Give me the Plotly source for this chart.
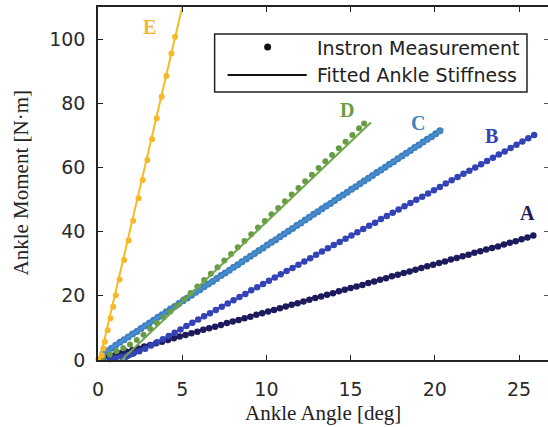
import plotly.graph_objects as go

# ---- Instron measurements (ankle angle in deg, ankle moment in N·m) ----
angle_a = [0.30, 0.65, 1.00, 1.35, 1.70, 2.05, 2.40, 2.75, 3.10, 3.45, 3.80, 4.15, 4.50, 4.85,
           5.20, 5.55, 5.90, 6.25, 6.60, 6.95, 7.30, 7.65, 8.00, 8.35, 8.70, 9.05, 9.40, 9.75,
           10.10, 10.45, 10.80, 11.15, 11.50, 11.85, 12.20, 12.55, 12.90, 13.25, 13.60, 13.95,
           14.30, 14.65, 15.00, 15.35, 15.70, 16.05, 16.40, 16.75, 17.10, 17.45, 17.80, 18.15,
           18.50, 18.85, 19.20, 19.55, 19.90, 20.25, 20.60, 20.95, 21.30, 21.65, 22.00, 22.35,
           22.70, 23.05, 23.40, 23.75, 24.10, 24.45, 24.80, 25.15, 25.50, 25.85]
moment_a = [0.5, 1.0, 1.5, 2.1, 2.6, 3.1, 3.6, 4.2, 4.7, 5.2, 5.7, 6.2, 6.8, 7.3,
            7.8, 8.3, 8.8, 9.4, 9.9, 10.4, 10.9, 11.5, 12.0, 12.5, 13.0, 13.5, 14.1, 14.6,
            15.1, 15.6, 16.1, 16.7, 17.2, 17.7, 18.2, 18.8, 19.3, 19.8, 20.3, 20.8,
            21.4, 21.9, 22.4, 22.9, 23.4, 24.0, 24.5, 25.0, 25.5, 26.1, 26.6, 27.1,
            27.6, 28.1, 28.7, 29.2, 29.7, 30.2, 30.7, 31.3, 31.8, 32.3, 32.8, 33.4,
            33.9, 34.4, 34.9, 35.4, 36.0, 36.5, 37.0, 37.6, 38.2, 38.8]

angle_b = [0.70, 1.05, 1.40, 1.75, 2.10, 2.45, 2.80, 3.15, 3.50, 3.85, 4.20, 4.55, 4.90, 5.25,
           5.60, 5.95, 6.30, 6.65, 7.00, 7.35, 7.70, 8.05, 8.40, 8.75, 9.10, 9.45, 9.80, 10.15,
           10.50, 10.85, 11.20, 11.55, 11.90, 12.25, 12.60, 12.95, 13.30, 13.65, 14.00, 14.35,
           14.70, 15.05, 15.40, 15.75, 16.10, 16.45, 16.80, 17.15, 17.50, 17.85, 18.20, 18.55,
           18.90, 19.25, 19.60, 19.95, 20.30, 20.65, 21.00, 21.35, 21.70, 22.05, 22.40, 22.75,
           23.10, 23.45, 23.80, 24.15, 24.50, 24.85, 25.20, 25.55, 25.90]
moment_b = [0.3, 0.6, 1.0, 1.5, 2.0, 2.7, 3.5, 4.5, 5.5, 6.5, 7.5, 8.5, 9.5, 10.6,
            11.6, 12.6, 13.6, 14.6, 15.6, 16.6, 17.6, 18.6, 19.6, 20.6, 21.7, 22.7, 23.7, 24.7,
            25.7, 26.7, 27.7, 28.7, 29.7, 30.7, 31.7, 32.8, 33.8, 34.8, 35.8, 36.8,
            37.8, 38.8, 39.8, 40.8, 41.8, 42.8, 43.9, 44.9, 45.9, 46.9, 47.9, 48.9,
            49.9, 50.9, 51.9, 52.9, 53.9, 55.0, 56.0, 57.0, 58.0, 59.0, 60.0, 61.0,
            62.0, 63.0, 64.0, 65.0, 66.1, 67.1, 68.1, 69.1, 70.1]

angle_c = [0.30, 0.55, 0.80, 1.05, 1.30, 1.55, 1.80, 2.05, 2.30, 2.55, 2.80, 3.05, 3.30, 3.55,
           3.80, 4.05, 4.30, 4.55, 4.80, 5.05, 5.30, 5.55, 5.80, 6.05, 6.30, 6.55, 6.80, 7.05,
           7.30, 7.55, 7.80, 8.05, 8.30, 8.55, 8.80, 9.05, 9.30, 9.55, 9.80, 10.05, 10.30, 10.55,
           10.80, 11.05, 11.30, 11.55, 11.80, 12.05, 12.30, 12.55, 12.80, 13.05, 13.30, 13.55,
           13.80, 14.05, 14.30, 14.55, 14.80, 15.05, 15.30, 15.55, 15.80, 16.05, 16.30, 16.55,
           16.80, 17.05, 17.30, 17.55, 17.80, 18.05, 18.30, 18.55, 18.80, 19.05, 19.30, 19.55,
           19.80, 20.05, 20.30]
moment_c = [2.0, 2.9, 3.7, 4.6, 5.5, 6.3, 7.2, 8.1, 8.9, 9.8, 10.7, 11.5, 12.4, 13.3,
            14.1, 15.0, 15.9, 16.7, 17.6, 18.5, 19.3, 20.2, 21.1, 21.9, 22.8, 23.7, 24.5, 25.4,
            26.3, 27.1, 28.0, 28.9, 29.7, 30.6, 31.5, 32.3, 33.2, 34.1, 34.9, 35.8, 36.7, 37.5,
            38.4, 39.3, 40.1, 41.0, 41.9, 42.7, 43.6, 44.5, 45.4, 46.2, 47.1, 48.0,
            48.8, 49.7, 50.6, 51.4, 52.3, 53.2, 54.0, 54.9, 55.8, 56.6, 57.5, 58.4,
            59.2, 60.1, 61.0, 61.8, 62.7, 63.6, 64.4, 65.3, 66.2, 67.0, 67.9, 68.8,
            69.6, 70.5, 71.4]

angle_d = [0.3, 0.7, 1.1, 1.5, 1.9, 2.3, 2.7, 3.1, 3.5, 3.9, 4.3, 4.7, 5.1, 5.5, 5.9, 6.3,
           6.7, 7.1, 7.5, 7.9, 8.3, 8.7, 9.1, 9.5, 9.9, 10.3, 10.7, 11.1, 11.5, 11.9, 12.3,
           12.7, 13.1, 13.5, 13.9, 14.3, 14.7, 15.1, 15.5, 15.8]
moment_d = [0.8, 1.7, 2.7, 3.7, 4.8, 6.2, 7.9, 9.7, 11.5, 13.3, 15.1, 17.0, 18.9, 20.9, 22.9,
            24.9, 26.9, 28.9, 31.0, 33.0, 35.1, 37.1, 39.2, 41.3, 43.3, 45.4, 47.4, 49.5, 51.6,
            53.6, 55.7, 57.7, 59.8, 61.9, 63.9, 66.0, 68.0, 70.1, 72.2, 73.7]

angle_e = [0.02, 0.23, 0.32, 0.41, 0.57, 0.74, 0.90, 1.06, 1.28, 1.55, 1.82, 2.09, 2.41,
           2.66, 2.93, 3.21, 3.49, 3.78, 4.06, 4.36, 4.58]
moment_e = [0.2, 1.5, 3.6, 5.7, 9.3, 13.0, 16.6, 20.2, 25.1, 31.2, 37.2, 43.4, 50.4,
            56.1, 62.3, 68.8, 75.3, 82.0, 88.5, 95.5, 100.7]

# ---- fitted ankle stiffness lines (end points) ----
fit_a_angle, fit_a_moment = [0.30, 25.90], [0.6, 38.8]
fit_b_angle, fit_b_moment = [1.59, 25.90], [0.0, 70.1]
fit_c_angle, fit_c_moment = [0.10, 20.50], [1.3, 72.0]
fit_d_angle, fit_d_moment = [1.40, 16.20], [0.0, 74.0]
fit_e_angle, fit_e_moment = [0.10, 5.00], [0.0, 110.0]

series_names = ["A", "B", "C", "D", "E"]

x_ticks = [0, 5, 10, 15, 20, 25]
y_ticks = [0, 20, 40, 60, 80, 100]

# ---- styling ----
colors = {"A": "#1d1b5c", "B": "#3443b6", "C": "#3d7fc1", "D": "#679c45", "E": "#f6b72c"}
line_colors = {"A": "#1d1b5c", "B": "#3443b6", "C": "#4a8fcf", "D": "#6fa54c", "E": "#f7bb22"}
marker_sizes = {"A": 6.5, "B": 6.5, "C": 7, "D": 6, "E": 6}
label_pos = {"A": (25.5, 45.8), "B": (23.37, 69.8), "C": (19.0, 73.7),
             "D": (14.77, 77.9), "E": (3.06, 103.7)}

meas = {"A": (angle_a, moment_a), "B": (angle_b, moment_b), "C": (angle_c, moment_c),
        "D": (angle_d, moment_d), "E": (angle_e, moment_e)}
fits = {"A": (fit_a_angle, fit_a_moment), "B": (fit_b_angle, fit_b_moment),
        "C": (fit_c_angle, fit_c_moment), "D": (fit_d_angle, fit_d_moment),
        "E": (fit_e_angle, fit_e_moment)}

fig = go.Figure()
for name in series_names:
    ax, my = meas[name]
    fx, fy = fits[name]
    fig.add_trace(go.Scatter(
        x=ax, y=my, mode="markers", showlegend=False, cliponaxis=False,
        marker=dict(size=marker_sizes[name], color=colors[name], line=dict(width=0)),
        hoverinfo="skip"))
    fig.add_trace(go.Scatter(
        x=fx, y=fy, mode="lines", showlegend=False,
        line=dict(color=line_colors[name], width=2), hoverinfo="skip"))

# curve labels
for name in series_names:
    lx, ly = label_pos[name]
    fig.add_annotation(x=lx, y=ly, text="<b>%s</b>" % name, showarrow=False,
                       font=dict(family="Liberation Serif", size=20, color=colors[name]),
                       xanchor="center", yanchor="middle")

# hand-drawn legend box
fig.add_shape(type="rect", xref="paper", yref="paper",
              x0=0.2592, x1=0.9533, y0=0.7592, y1=0.9235,
              line=dict(color="#222222", width=1.5), fillcolor="white")
fig.add_shape(type="circle", xref="paper", yref="paper",
              xsizemode="pixel", ysizemode="pixel", xanchor=0.377, yanchor=0.8867,
              x0=-3.5, x1=3.5, y0=-3.5, y1=3.5,
              line=dict(width=0), fillcolor="#111111")
fig.add_shape(type="line", xref="paper", yref="paper",
              x0=0.288, x1=0.4638, y0=0.8074, y1=0.8074,
              line=dict(color="#111111", width=2))
legend_font = dict(family="DejaVu Sans", size=19, color="#222222")
fig.add_annotation(xref="paper", yref="paper", x=0.4816, y=0.8839, text="Instron Measurement",
                   showarrow=False, xanchor="left", yanchor="middle", font=legend_font)
fig.add_annotation(xref="paper", yref="paper", x=0.4816, y=0.8074, text="Fitted Ankle Stiffness",
                   showarrow=False, xanchor="left", yanchor="middle", font=legend_font)

# axis titles
title_font = dict(family="Liberation Serif", size=21, color="#222222")
fig.add_annotation(xref="paper", yref="paper", x=0.5, y=0, yshift=-53,
                   text="Ankle Angle [deg]", showarrow=False,
                   xanchor="center", yanchor="middle", font=title_font)
fig.add_annotation(xref="paper", yref="paper", x=0, y=0.5, xshift=-78,
                   text="Ankle Moment [N·m]", showarrow=False, textangle=-90,
                   xanchor="center", yanchor="middle", font=title_font)

tick_font = dict(family="DejaVu Sans", size=19, color="#2a2a2a")
fig.update_layout(
    width=548, height=427,
    margin=dict(l=98, r=0, t=7, b=67),
    paper_bgcolor="white", plot_bgcolor="white",
    showlegend=False,
    xaxis=dict(range=[0, 26.72], tickvals=x_ticks, ticks="inside", ticklen=5,
               tickcolor="#222222", showline=True, linecolor="#222222", linewidth=1.5,
               mirror="ticks", showgrid=False, zeroline=False, tickfont=tick_font,
               ticklabelstandoff=11),
    yaxis=dict(range=[0, 110], tickvals=y_ticks, ticks="inside", ticklen=5,
               tickcolor="#222222", showline=True, linecolor="#222222", linewidth=1.5,
               mirror=False, showgrid=False, zeroline=False, tickfont=tick_font,
               ticklabelstandoff=7),
    yaxis2=dict(range=[0, 110], tickvals=y_ticks, ticks="inside", ticklen=4,
                tickcolor="#555555", showline=False, showticklabels=False,
                showgrid=False, zeroline=False, overlaying="y", side="right"),
)
# invisible trace so the right-hand tick axis is drawn
fig.add_trace(go.Scatter(x=[None], y=[None], yaxis="y2", showlegend=False, hoverinfo="skip"))

fig.write_html("out.html")
